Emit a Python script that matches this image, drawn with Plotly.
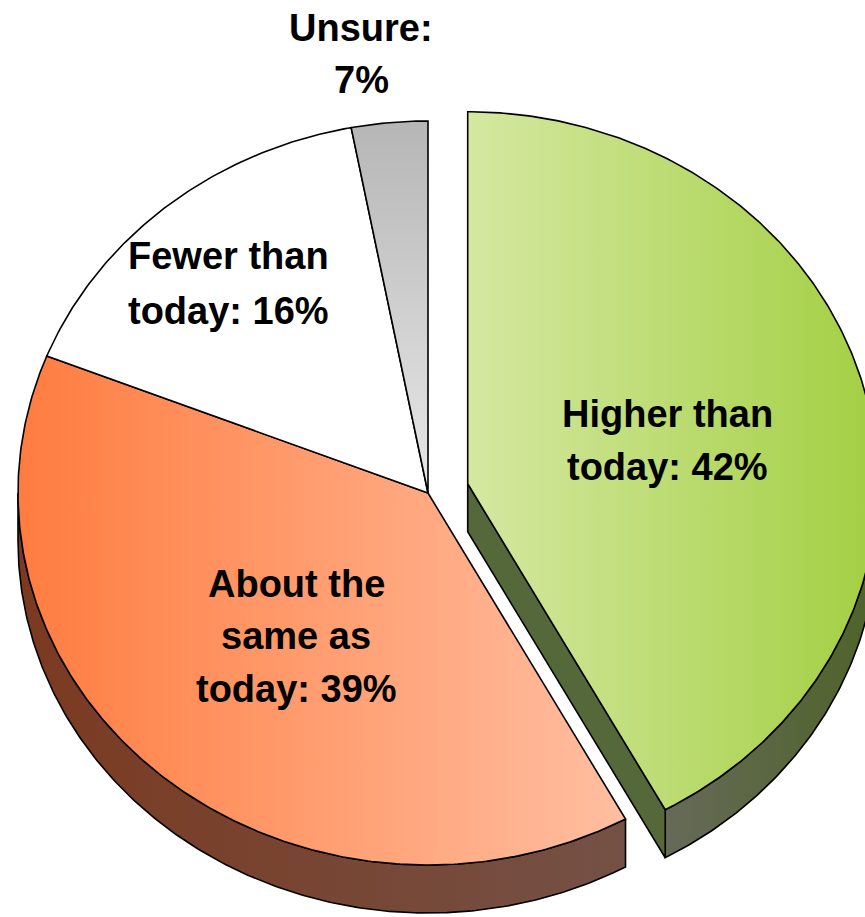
import numpy as np
import plotly.graph_objects as go

# ---------------- data ----------------
categories = ["Higher than today", "About the same as today", "Fewer than today", "Unsure"]
slice_share = [42, 39, 16, 3]          # share of the pie as drawn
label_lines = [
    ["Higher than", "today: 42%"],
    ["About the", "same as", "today: 39%"],
    ["Fewer than", "today: 16%"],
    ["Unsure:", "7%"],
]
pull = [0.10, 0.0, 0.0, 0.0]

# ---------------- style ----------------
top_grad = [("#D5E8A2", "#A3CF42"), ("#FF7C40", "#FFBFA1"), ("#FFFFFF", "#FFFFFF"), ("#B6B6B6", "#E8E8E8")]
top_grad_type = ["horizontal", "horizontal", "none", "vertical"]
wall_grad = [("#666A58", "#4E6328"), ("#7B3A20", "#745146"), ("#DDDDDD", "#DDDDDD"), ("#999999", "#999999")]
face_color = ["#55683A", "#7A3C24", "#DDDDDD", "#999999"]
label_pos = [(667, [412, 465]), (296, [582, 634, 687]), (228, [254, 309]), (361, [26, 78])]

CX, CY, RX, RY, DEPTH = 428, 493, 410, 372, 48
LINE = dict(color="black", width=1.6)
FONT = dict(family="Liberation Sans, Arial, sans-serif", size=38, color="black")


def pt(theta, ox, oy, z=0.0):
    t = np.radians(theta)
    return CX + ox + RX * np.sin(t), CY + oy - RY * np.cos(t) + z


def arc(a, b, ox, oy, z=0.0, n=None):
    n = n or max(3, int(abs(b - a) * 2))
    th = np.linspace(a, b, n)
    xs, ys = pt(th, ox, oy, z)
    return list(xs), list(ys)


fig = go.Figure()
total = float(sum(slice_share))
angles = []
acc = 0.0
for v in slice_share:
    a0 = acc / total * 360.0
    acc += v
    a1 = acc / total * 360.0
    angles.append((a0, a1))

offsets = []
for (a0, a1), p in zip(angles, pull):
    mid = np.radians((a0 + a1) / 2)
    offsets.append((p * RX * np.sin(mid), -p * RY * np.cos(mid)))

# side walls and cut faces (drawn first)
for i, ((a0, a1), (ox, oy)) in enumerate(zip(angles, offsets)):
    lo, hi = max(a0, 90.0), min(a1, 270.0)
    if lo < hi:
        tx, ty = arc(lo, hi, ox, oy)
        bx, by = arc(hi, lo, ox, oy, DEPTH)
        fig.add_trace(go.Scatter(
            x=tx + bx + [tx[0]], y=ty + by + [ty[0]], mode="lines", fill="toself",
            fillgradient=dict(type="horizontal",
                              colorscale=[[0, wall_grad[i][0]], [1, wall_grad[i][1]]]),
            line=LINE, hoverinfo="skip", showlegend=False))
    if pull[i] > 0:
        for ang, vis in ((a1, 0 < a1 < 180), (a0, 180 < a0 < 360)):
            if not vis:
                continue
            ex, ey = pt(ang, ox, oy)
            ax_, ay_ = CX + ox, CY + oy
            fig.add_trace(go.Scatter(
                x=[ax_, ex, ex, ax_, ax_], y=[ay_, ey, ey + DEPTH, ay_ + DEPTH, ay_],
                mode="lines", fill="toself", fillcolor=face_color[i],
                line=LINE, hoverinfo="skip", showlegend=False))

# top surfaces
for i, ((a0, a1), (ox, oy)) in enumerate(zip(angles, offsets)):
    ax_, ay_ = CX + ox, CY + oy
    tx, ty = arc(a0, a1, ox, oy)
    xs = [ax_] + tx + [ax_]
    ys = [ay_] + ty + [ay_]
    kw = {}
    if top_grad_type[i] == "none":
        kw["fillcolor"] = top_grad[i][0]
    elif top_grad_type[i] == "vertical":
        kw["fillgradient"] = dict(type="vertical", start=min(ys), stop=max(ys),
                                  colorscale=[[0, top_grad[i][0]], [1, top_grad[i][1]]])
    else:
        kw["fillgradient"] = dict(type="horizontal", start=min(xs), stop=max(xs),
                                  colorscale=[[0, top_grad[i][0]], [1, top_grad[i][1]]])
    fig.add_trace(go.Scatter(x=xs, y=ys, mode="lines", fill="toself", line=LINE,
                             name=categories[i], hoverinfo="skip", showlegend=False, **kw))

# labels
for lines, (lx, lys) in zip(label_lines, label_pos):
    for txt, ly in zip(lines, lys):
        fig.add_annotation(x=lx, y=ly + 2, xref="x", yref="y", text="<b>" + txt + "</b>",
                           showarrow=False, font=FONT, xanchor="center", yanchor="middle")

fig.update_xaxes(range=[0, 865], visible=False, fixedrange=True)
fig.update_yaxes(range=[917, 0], visible=False, fixedrange=True)
fig.update_layout(width=865, height=917, margin=dict(l=0, r=0, t=0, b=0),
                  paper_bgcolor="white", plot_bgcolor="white", showlegend=False)

fig.write_html("out.html", config={"displayModeBar": False},
               post_script="document.body.style.margin='0';document.body.style.overflow='hidden';")
